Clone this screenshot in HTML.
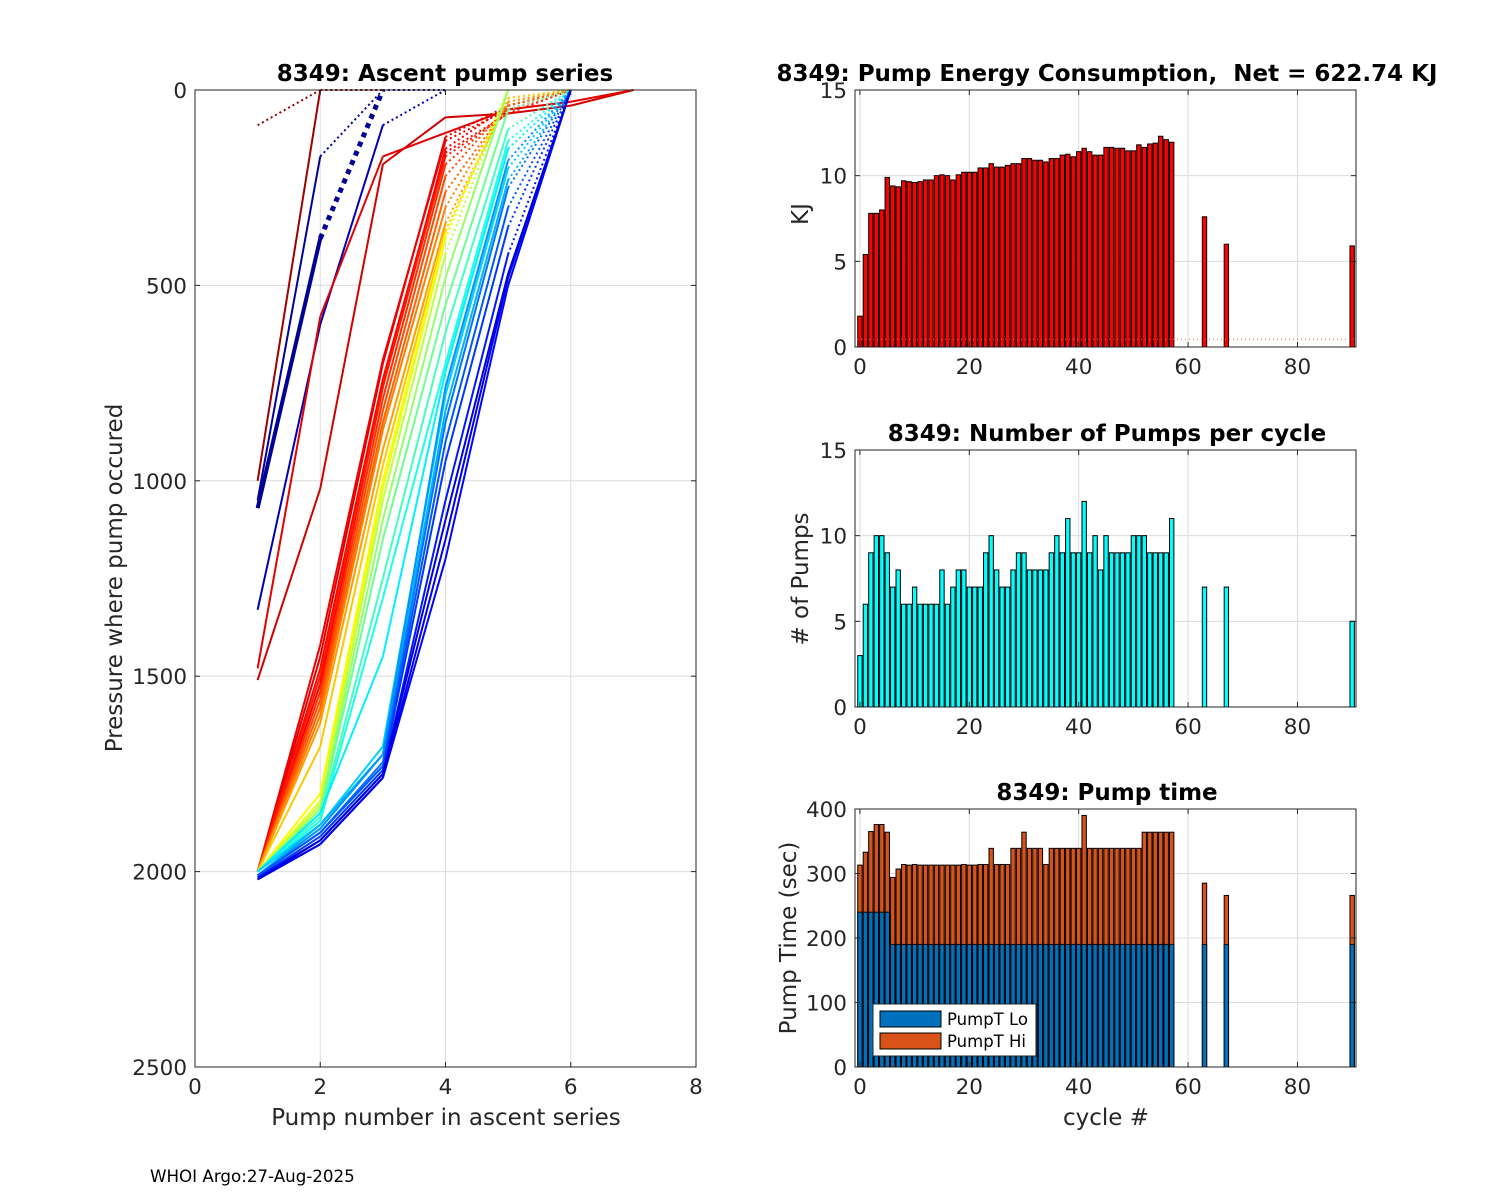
<!DOCTYPE html>
<html><head><meta charset="utf-8"><style>
body{margin:0;background:#fff;}
svg{display:block;font-family:"DejaVu Sans","Liberation Sans",sans-serif;}
text{white-space:pre;}
</style></head><body>
<svg id="fig" width="1500" height="1200" viewBox="0 0 1500 1200" xmlns="http://www.w3.org/2000/svg">
<rect width="1500" height="1200" fill="#fff"/>
<text x="150" y="1182" font-size="16.7" fill="#000">WHOI Argo:27-Aug-2025</text>
</svg>
<script>
// ---------- DATA ----------
const profiles = [
 {c:0.98,p:[90,0,0],solid:0},
 {c:0.97,p:[1000,0,0],solid:1},
 {c:0.02,p:[1070,380,0],solid:1,thick:true},
 {c:0.03,p:[1050,170,0,0],solid:1},
 {c:0.05,p:[1330,600,90,0],solid:2},
 {c:0.92,p:[1510,1020,190,70,60,40,0],solid:6},
 {c:0.9,p:[1480,580,170,110,50,30,0],solid:6},
 {c:0.88,p:[2000,1520,760,150,40,0],solid:3},
 {c:0.9,p:[2000,1450,700,120,40,0],solid:3},
 {c:0.89,p:[2000,1420,690,130,50,0],solid:3},
 {c:0.87,p:[2000,1480,740,160,60,0],solid:3},
 {c:0.85,p:[2000,1500,760,170,60,0],solid:3},
 {c:0.83,p:[2000,1540,790,190,50,0],solid:3},
 {c:0.8,p:[2000,1560,820,220,40,0],solid:3},
 {c:0.78,p:[2000,1580,850,260,40,0],solid:3},
 {c:0.75,p:[2000,1600,870,300,30,0],solid:3},
 {c:0.72,p:[2000,1620,920,340,30,0],solid:3},
 {c:0.68,p:[2000,1680,960,360,20,0],solid:3},
 {c:0.63,p:[2000,1800,1000,370,0],solid:3},
 {c:0.6,p:[2000,1820,1020,380,0],solid:3},
 {c:0.56,p:[2000,1830,1050,420,0],solid:3},
 {c:0.52,p:[2000,1840,1100,480,0],solid:4},
 {c:0.48,p:[2000,1850,1150,550,50,0],solid:4},
 {c:0.44,p:[2000,1860,1250,620,100,0],solid:4},
 {c:0.4,p:[2000,1870,1300,700,130,0],solid:4},
 {c:0.36,p:[2000,1850,1450,720,150,0],solid:4},
 {c:0.33,p:[2000,1880,1680,780,200,0],solid:4},
 {c:0.3,p:[2010,1880,1700,820,230,0],solid:4},
 {c:0.27,p:[2010,1890,1700,760,180,0],solid:4},
 {c:0.24,p:[2010,1900,1720,850,250,0],solid:4},
 {c:0.21,p:[2010,1900,1730,900,300,0],solid:4},
 {c:0.18,p:[2015,1910,1740,950,350,0],solid:4},
 {c:0.15,p:[2015,1920,1750,1050,420,0],solid:4},
 {c:0.13,p:[2020,1930,1760,1200,500,0],solid:5},
 {c:0.11,p:[2020,1930,1760,1150,480,0],solid:5},
 {c:0.09,p:[2020,1920,1750,1100,470,0],solid:5}
];
const cycles = [0,1,2,3,4,5,6,7,8,9,10,11,12,13,14,15,16,17,18,19,20,21,22,23,24,25,26,27,28,29,30,31,32,33,34,35,36,37,38,39,40,41,42,43,44,45,46,47,48,49,50,51,52,53,54,55,56,57,63,67,90];
const energy = [1.8,5.4,7.8,7.8,8.0,9.9,9.4,9.35,9.7,9.65,9.6,9.65,9.75,9.75,10.0,10.05,10.0,9.75,10.05,10.2,10.2,10.2,10.45,10.45,10.7,10.5,10.5,10.6,10.7,10.7,11.0,11.0,10.9,10.9,10.8,11.0,11.0,11.2,11.25,11.1,11.4,11.6,11.4,11.2,11.2,11.65,11.65,11.6,11.6,11.45,11.45,11.8,11.65,11.85,11.9,12.3,12.1,11.95,7.6,6.0,5.9];
const pumps = [3,6,9,10,10,9,7,8,6,6,7,6,6,6,6,8,6,7,8,8,7,7,7,9,10,8,7,7,8,9,9,8,8,8,8,9,10,9,11,9,9,12,9,10,8,10,9,9,9,9,10,10,10,9,9,9,9,11,7,7,5];
const pumpLo = [240,240,240,240,240,240,190,190,190,190,190,190,190,190,190,190,190,190,190,190,190,190,190,190,190,190,190,190,190,190,190,190,190,190,190,190,190,190,190,190,190,190,190,190,190,190,190,190,190,190,190,190,190,190,190,190,190,190,190,190,190];
const pumpTotal = [313,333,365,376,376,364,294,307,314,313,314,313,313,313,313,313,313,313,313,314,313,313,314,314,339,314,314,314,339,339,364,339,339,339,314,339,339,339,339,339,339,390,339,339,339,339,339,339,339,339,339,339,364,364,364,364,364,364,285,266,266];
const leftXTicks = [0,2,4,6,8];
const leftYTicks = [0,500,1000,1500,2000,2500];
const rightXTicks = [0,20,40,60,80];
const kjTicks = [0,5,10,15];
const pumpTicks = [0,5,10,15];
const timeTicks = [0,100,200,300,400];

// ---------- HELPERS ----------
const NS='http://www.w3.org/2000/svg';
const svg=document.getElementById('fig');
function mk(tag,attrs,parent){const e=document.createElementNS(NS,tag);for(const k in attrs)e.setAttribute(k,attrs[k]);(parent||svg).appendChild(e);return e;}
function txt(s,attrs,parent){const e=mk('text',attrs,parent);e.textContent=s;return e;}
function jet(v){const r=Math.min(Math.max(Math.min(4*v-1.5,-4*v+4.5),0),1);const g=Math.min(Math.max(Math.min(4*v-0.5,-4*v+3.5),0),1);const b=Math.min(Math.max(Math.min(4*v+0.5,-4*v+2.5),0),1);return `rgb(${Math.round(r*255)},${Math.round(g*255)},${Math.round(b*255)})`;}
const TS=21.5, LS=23, TT=23;
function axes(name,L,R,T,B,xmin,xmax,ymin,ymax,yrev,xticks,yticks){
  const g=mk('g',{});
  
  
  const sx=v=>L+(v-xmin)/(xmax-xmin)*(R-L);
  const sy=yrev?(v=>T+(v-ymin)/(ymax-ymin)*(B-T)):(v=>B-(v-ymin)/(ymax-ymin)*(B-T));
  xticks.forEach(t=>{const x=sx(t);mk('line',{x1:x,x2:x,y1:T,y2:B,stroke:'#dcdcdc','stroke-width':1},g);});
  yticks.forEach(t=>{const y=sy(t);mk('line',{x1:L,x2:R,y1:y,y2:y,stroke:'#dcdcdc','stroke-width':1},g);});
  return {g,sx,sy,L,R,T,B,xticks,yticks};
}
function frame(a,xlabels,name){
  const g=mk('g',{});
  
  
  mk('rect',{x:a.L,y:a.T,width:a.R-a.L,height:a.B-a.T,fill:'none',stroke:'#262626','stroke-width':1},g);
  a.xticks.forEach(t=>{const x=a.sx(t);mk('line',{x1:x,x2:x,y1:a.B,y2:a.B-5,stroke:'#262626'},g);mk('line',{x1:x,x2:x,y1:a.T,y2:a.T+5,stroke:'#262626'},g);
    const e=txt(String(t),{x:x,y:a.B+27,'font-size':TS,'text-anchor':'middle',fill:'#262626'},g);
    
    });
  a.yticks.forEach(t=>{const y=a.sy(t);mk('line',{x1:a.L,x2:a.L+5,y1:y,y2:y,stroke:'#262626'},g);mk('line',{x1:a.R,x2:a.R-5,y1:y,y2:y,stroke:'#262626'},g);
    const e=txt(String(t),{x:a.L-8,y:y+8,'font-size':TS,'text-anchor':'end',fill:'#262626'},g);
    
    });
}

// ---------- LEFT ----------
const A=axes('ascent-pump-axes',195,696,90,1067,0,8,0,2500,true,leftXTicks,leftYTicks);
profiles.forEach((pr,i)=>{
  const col=jet(pr.c);
  for(let k=0;k<pr.p.length-1;k++){
    const dotted=k>=pr.solid;
    const l=mk('line',{x1:A.sx(k+1),y1:A.sy(pr.p[k]),x2:A.sx(k+2),y2:A.sy(pr.p[k+1]),stroke:col,'stroke-width':pr.thick?(dotted?5:4):2,'stroke-dasharray':dotted?(pr.thick?'5,5':'2,3'):'none'},A.g);
    
    
  }
});
frame(A,true,'ascent');
let t=txt('8349: Ascent pump series',{x:445,y:81,'font-size':TT,'font-weight':'bold','text-anchor':'middle'});

t=txt('Pump number in ascent series',{x:446,y:1125,'font-size':LS,'text-anchor':'middle',fill:'#262626'});

t=txt('Pressure where pump occured',{x:0,y:0,'font-size':LS,'text-anchor':'middle',fill:'#262626',transform:'translate(122,578) rotate(-90)'});


// ---------- RIGHT ----------
const XMIN=-0.9,XMAX=90.7,BW=0.8;
function barChart(name,T,B,ymax,yticks,vals,fill,lo,loFill){
  const a=axes(name,855,1356,T,B,XMIN,XMAX,0,ymax,false,rightXTicks,yticks);
  cycles.forEach((c,i)=>{
    const x0=a.sx(c-BW/2),w=a.sx(c+BW/2)-x0;
    const y=a.sy(vals[i]);
    const r=mk('rect',{x:x0,y:y,width:w,height:a.B-y,fill:fill,stroke:'#000','stroke-width':1},a.g);
    
    
    if(lo){const y2=a.sy(lo[i]);const r2=mk('rect',{x:x0,y:y2,width:w,height:a.B-y2,fill:loFill,stroke:'#000','stroke-width':1},a.g);
      
      }
  });
  return a;
}
const E=barChart('energy-axes',90,347,15,kjTicks,energy,'#ff0000');
mk('line',{x1:857,x2:1354,y1:E.sy(0.45),y2:E.sy(0.45),stroke:'#ff6060','stroke-width':1,'stroke-dasharray':'1,3'},E.g);
frame(E,true,'energy');
t=txt('8349: Pump Energy Consumption,  Net = 622.74 KJ',{x:1107,y:81,'font-size':TT,'font-weight':'bold','text-anchor':'middle'});

t=txt('KJ',{x:0,y:0,'font-size':LS,'text-anchor':'middle',fill:'#262626',transform:'translate(808,214) rotate(-90)'});


const P=barChart('pumps-axes',450,707,15,pumpTicks,pumps,'#00ffff');
frame(P,true,'pumps');
t=txt('8349: Number of Pumps per cycle',{x:1107,y:441,'font-size':TT,'font-weight':'bold','text-anchor':'middle'});

t=txt('# of Pumps',{x:0,y:0,'font-size':LS,'text-anchor':'middle',fill:'#262626',transform:'translate(808,579) rotate(-90)'});


const T=barChart('pump-time-axes',809,1067,400,timeTicks,pumpTotal,'#d95319',pumpLo,'#0072bd');
frame(T,true,'pump-time');
t=txt('8349: Pump time',{x:1107,y:800,'font-size':TT,'font-weight':'bold','text-anchor':'middle'});

t=txt('Pump Time (sec)',{x:0,y:0,'font-size':LS,'text-anchor':'middle',fill:'#262626',transform:'translate(796,938) rotate(-90)'});

t=txt('cycle #',{x:1106,y:1125,'font-size':LS,'text-anchor':'middle',fill:'#262626'});


const lg=mk('g',{});


mk('rect',{x:873,y:1004,width:163,height:52,fill:'#fff',stroke:'#262626','stroke-width':1},lg);
mk('rect',{x:880,y:1011,width:61,height:16,fill:'#0072bd',stroke:'#000'},lg);
mk('rect',{x:880,y:1033,width:61,height:16,fill:'#d95319',stroke:'#000'},lg);
t=txt('PumpT Lo',{x:947,y:1025,'font-size':16.5,fill:'#000'},lg);

t=txt('PumpT Hi',{x:947,y:1047,'font-size':16.5,fill:'#000'},lg);

</script>
</body></html>
